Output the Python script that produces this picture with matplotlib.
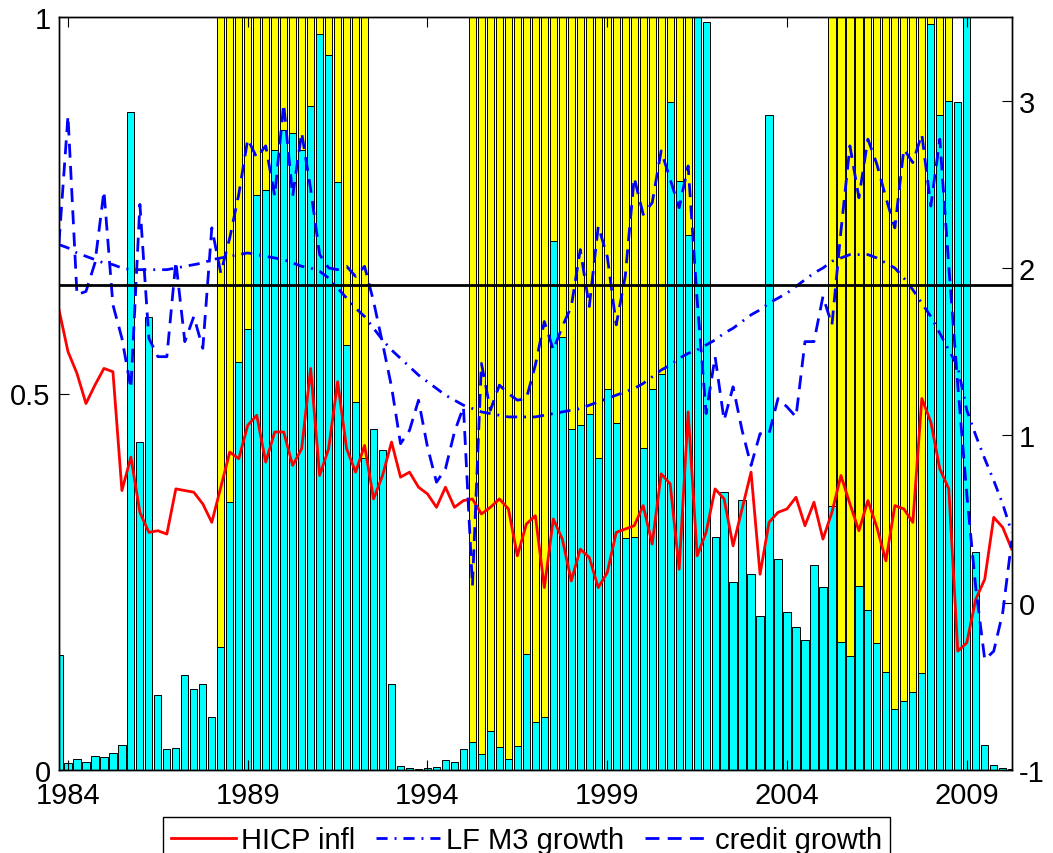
import matplotlib.pyplot as plt
import numpy as np

plt.rcParams['font.family'] = ['Liberation Sans', 'DejaVu Sans']
plt.rcParams['axes.unicode_minus'] = False

# quarterly sample, first observation 1983Q4
start = 1983.75

# regime probability (left axis)
prob = [0.153, 0.009, 0.015, 0.011, 0.019, 0.017, 0.022, 0.033, 0.874, 0.436,
        0.602, 0.099, 0.028, 0.029, 0.126, 0.108, 0.114, 0.071, 0.163, 0.356,
        0.542, 0.585, 0.764, 0.770, 0.823, 0.850, 0.846, 0.823, 0.882, 0.977,
        0.950, 0.781, 0.564, 0.489, 0.414, 0.453, 0.425, 0.114, 0.005, 0.002,
        0.001, 0.003, 0.004, 0.013, 0.011, 0.028, 0.037, 0.021, 0.052, 0.030,
        0.014, 0.032, 0.154, 0.064, 0.070, 0.703, 0.575, 0.453, 0.458, 0.473,
        0.415, 0.506, 0.461, 0.308, 0.310, 0.428, 0.506, 0.526, 0.887, 0.782,
        0.711, 1.000, 0.993, 0.310, 0.369, 0.250, 0.359, 0.260, 0.205, 0.870,
        0.280, 0.210, 0.190, 0.173, 0.272, 0.243, 0.351, 0.170, 0.152, 0.245,
        0.212, 0.169, 0.130, 0.081, 0.092, 0.103, 0.129, 0.991, 0.870, 0.889,
        0.887, 1.000, 0.290, 0.033, 0.007, 0.002, 0.001]

# boom indicator (yellow bars)
regime = [0] * 18 + [1] * 17 + [0] * 11 + [1] * 25 + [0] * 15 + [1] * 14 + [0] * 7

# right axis series
hicp = [1.75, 1.50, 1.37, 1.19, 1.30, 1.40, 1.38, 0.67, 0.87, 0.54,
        0.42, 0.43, 0.41, 0.68, 0.67, 0.66, 0.59, 0.48, 0.69, 0.90,
        0.86, 1.06, 1.12, 0.84, 1.02, 1.02, 0.82, 0.92, 1.40, 0.76,
        0.92, 1.32, 0.92, 0.78, 0.94, 0.62, 0.76, 0.96, 0.75, 0.78,
        0.69, 0.65, 0.57, 0.69, 0.57, 0.61, 0.62, 0.53, 0.57, 0.62,
        0.56, 0.28, 0.47, 0.52, 0.09, 0.50, 0.38, 0.13, 0.32, 0.27,
        0.09, 0.18, 0.42, 0.44, 0.46, 0.58, 0.35, 0.77, 0.71, 0.20,
        1.14, 0.28, 0.42, 0.68, 0.62, 0.34, 0.56, 0.78, 0.17, 0.48,
        0.54, 0.56, 0.63, 0.46, 0.60, 0.38, 0.54, 0.76, 0.59, 0.43,
        0.61, 0.45, 0.25, 0.58, 0.56, 0.48, 1.22, 1.08, 0.80, 0.68,
        -0.29, -0.24, 0.02, 0.14, 0.51, 0.45, 0.32]

m3_lf = [2.14, 2.12, 2.09, 2.07, 2.05, 2.03, 2.02, 2.00, 1.99, 1.99,
         1.99, 1.99, 1.99, 2.00, 2.01, 2.02, 2.03, 2.05, 2.06, 2.07,
         2.08, 2.09, 2.08, 2.07, 2.06, 2.05, 2.03, 2.01, 2.00, 1.98,
         1.94, 1.88, 1.82, 1.76, 1.71, 1.64, 1.57, 1.51, 1.46, 1.41,
         1.36, 1.32, 1.28, 1.24, 1.21, 1.18, 1.16, 1.14, 1.13, 1.12,
         1.11, 1.11, 1.11, 1.11, 1.12, 1.13, 1.14, 1.15, 1.16, 1.18,
         1.20, 1.22, 1.24, 1.26, 1.28, 1.31, 1.35, 1.39, 1.42, 1.46,
         1.49, 1.51, 1.54, 1.57, 1.61, 1.64, 1.68, 1.72, 1.75, 1.79,
         1.82, 1.85, 1.89, 1.93, 1.97, 2.00, 2.04, 2.06, 2.08, 2.08,
         2.08, 2.06, 2.03, 2.00, 1.94, 1.87, 1.79, 1.71, 1.61, 1.51,
         1.41, 1.15, 1.00, 0.86, 0.73, 0.59, 0.42]

credit = [2.15, 2.91, 1.84, 1.86, 2.03, 2.46, 1.78, 1.58, 1.28, 2.38,
          1.58, 1.47, 1.47, 2.04, 1.56, 1.71, 1.52, 2.24, 1.97, 2.18,
          2.44, 2.77, 2.66, 2.73, 2.43, 2.98, 2.43, 2.81, 2.47, 2.08,
          2.00, 1.99, 2.01, 1.95, 2.01, 1.80, 1.55, 1.29, 0.95, 1.03,
          1.21, 0.93, 0.72, 0.80, 1.02, 1.17, 0.10, 1.43, 1.15, 1.30,
          1.25, 1.21, 1.22, 1.42, 1.68, 1.51, 1.65, 1.77, 2.11, 1.77,
          2.25, 2.07, 1.66, 1.95, 2.54, 2.32, 2.39, 2.70, 2.53, 2.36,
          2.61, 1.81, 1.13, 1.47, 1.09, 1.29, 1.03, 0.82, 1.01, 1.01,
          1.22, 1.17, 1.11, 1.56, 1.56, 1.83, 1.66, 2.22, 2.73, 2.42,
          2.77, 2.62, 2.42, 2.24, 2.71, 2.63, 2.80, 2.37, 2.77, 2.01,
          1.30, 0.65, 0.09, -0.34, -0.29, -0.06, 0.37]

threshold = 1.9

t = start + 0.25 * np.arange(len(prob))

fig = plt.figure(figsize=(10.53, 8.54), dpi=100)
ax1 = fig.add_axes([59 / 1053, 1 - 771 / 854, 952.7 / 1053, 753 / 854])

ax1.bar(t, regime, width=0.2, color='yellow', edgecolor='k', linewidth=0.7)
ax1.bar(t, prob, width=0.2, color='cyan', edgecolor='k', linewidth=0.7)
ax1.set_xlim(t[0], t[-1])
ax1.set_ylim(0, 1)
ax1.set_yticks([0, 0.5, 1])
ax1.set_yticklabels(['0', '0.5', '1'])
ax1.set_xticks(range(1984, 2010, 5))
ax1.tick_params(direction='in', top=True, right=True, length=7, width=0.8,
                labelsize=21)
ax1.tick_params(axis='x', pad=8)
ax1.tick_params(axis='y', pad=6)

ax2 = ax1.twinx()
l1, = ax2.plot(t, hicp, color='red', lw=2)
l2, = ax2.plot(t, m3_lf, color='blue', lw=2, linestyle=(0, (4, 2.5, 0.7, 2.5)))
l3, = ax2.plot(t, credit, color='blue', lw=2, linestyle=(0, (5, 3)))
ax2.axhline(threshold, color='k', lw=2)
ax2.set_ylim(-1, 3.5)
ax2.set_yticks([-1, 0, 1, 2, 3])
ax2.tick_params(direction='in', length=7, width=0.8, labelsize=21, pad=5)

for ax in (ax1, ax2):
    for s in ax.spines.values():
        s.set_linewidth(1.0)

fig.legend([l1, l2, l3], ['HICP infl', 'LF M3 growth', 'credit growth'],
           loc='upper center', bbox_to_anchor=(0.5, 1 - 818 / 854), ncol=3,
           fontsize=21, frameon=True, fancybox=False, framealpha=1,
           edgecolor='k', handlelength=2.2, handletextpad=0.2,
           columnspacing=0.7, borderpad=0.3, borderaxespad=0)

fig.savefig('out.png')
